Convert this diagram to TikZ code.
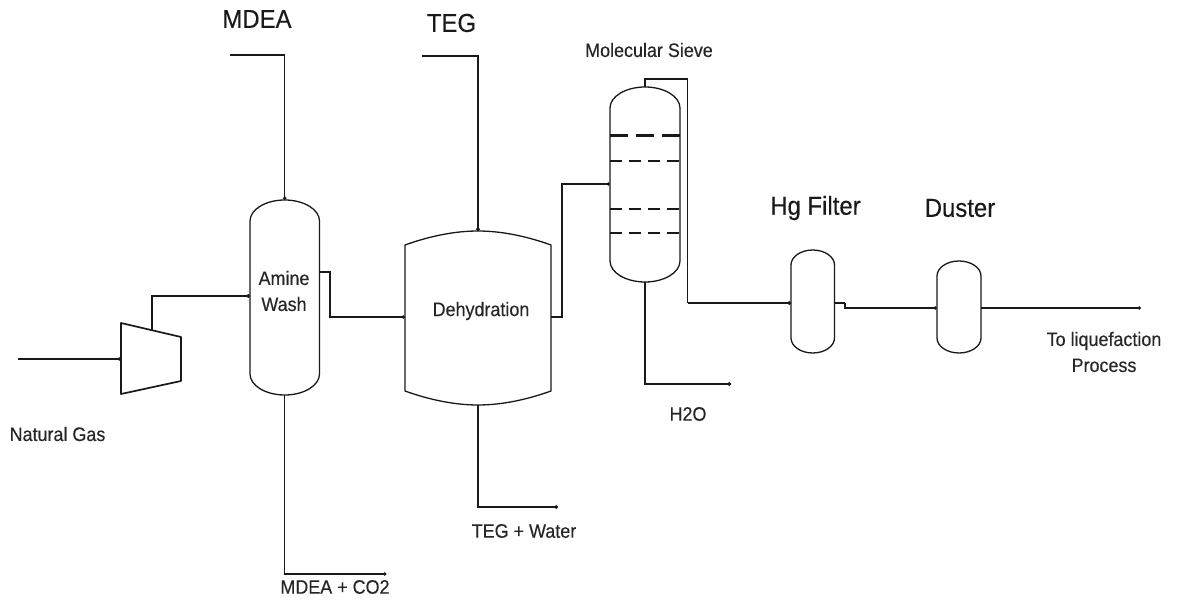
\documentclass[tikz,border=0pt]{standalone}
\usepackage{fontspec}
\setmainfont[FakeStretch=0.92,FakeBold=0.25]{Liberation Sans}
\usetikzlibrary{arrows.meta}
\tikzset{
  frame/.style={inner sep=0pt,outer sep=0pt,draw=none,rectangle},
  outline/.style={draw=black!90,line width=1.3pt,line join=round},
  pipe/.style={draw=black!90,line width=1.1pt,line join=miter},
  heavypipe/.style={draw=black!90,line width=2.5pt,line join=miter},
  flow/.style={-{Circle[length=3.5pt,width=3.5pt]}},
  small/.style={font=\fontsize{19.5}{26}\selectfont,text=black!85,inner sep=0pt,align=center},
  large/.style={font=\fontsize{26}{28}\selectfont,text=black!90,inner sep=0pt,align=center},
  sievefine/.style={draw=black!90,line width=1.2pt,dash pattern=on 12pt off 7pt},
  sievethick/.style={draw=black!90,line width=2.4pt,dash pattern=on 12pt off 7pt},
}
% #1 name, #2 left, #3 right, #4 top, #5 bottom, #6 cap height
\newcommand{\capvessel}[6]{%
  \pgfmathsetmacro{\vc}{(#2+#3)/2}%
  \pgfmathsetmacro{\vm}{(#4+#5)/2}%
  \pgfmathsetmacro{\vw}{#3-#2}%
  \pgfmathsetmacro{\vh}{#5-#4}%
  \pgfmathsetmacro{\vk}{0.275*\vw}%
  \pgfmathsetmacro{\vq}{0.55*#6}%
  \node[frame,minimum width=\vw pt,minimum height=\vh pt] (#1) at (\vc,\vm) {};
  \draw[outline] (#2,#4+#6)
    .. controls (#2,#4+#6-\vq) and (\vc-\vk,#4) .. (\vc,#4)
    .. controls (\vc+\vk,#4) and (#3,#4+#6-\vq) .. (#3,#4+#6)
    -- (#3,#5-#6)
    .. controls (#3,#5-#6+\vq) and (\vc+\vk,#5) .. (\vc,#5)
    .. controls (\vc-\vk,#5) and (#2,#5-#6+\vq) .. (#2,#5-#6)
    -- cycle;
}
\begin{document}
\begin{tikzpicture}[x=1pt,y=-1pt]
\useasboundingbox (0,0) rectangle (1178,601);
\fill[white] (0,0) rectangle (1178,601);

% equipment
\capvessel{amine}{250}{319.5}{200}{395}{21}
\capvessel{sieve}{610}{680}{87}{282}{21}
\capvessel{hg}{791}{834.5}{250}{353}{15}
\capvessel{duster}{937}{981}{261}{353}{15}
\node[frame,minimum width=146pt,minimum height=174pt] (dehy) at (478,318) {};
\draw[outline] (405,245) .. controls (430,236) and (455,231) .. (478,231)
  .. controls (501,231) and (526,236) .. (551,245) -- (551,391)
  .. controls (526,400) and (501,405) .. (478,405)
  .. controls (455,405) and (430,400) .. (405,391) -- cycle;
\node[frame,minimum width=60pt,minimum height=71pt] (comp) at (151,358.5) {};
\draw[outline,line width=1.7pt] (121,323) -- (181,337) -- (181,381) -- (121,394) -- cycle;

% sieve beds
\draw[sievethick,dash pattern=on 18pt off 8pt,line width=3pt] (sieve.west |- 0,136) -- (sieve.east |- 0,136);
\draw[sievefine]  (sieve.west |- 0,161) -- (sieve.east |- 0,161);
\draw[sievefine]  (sieve.west |- 0,209) -- (sieve.east |- 0,209);
\draw[sievethick] (sieve.west |- 0,233) -- (sieve.east |- 0,233);

% free ends
\coordinate (feed) at (18,359);
\coordinate (compout) at (152,330);
\coordinate (mdeain) at (230,55);
\coordinate (tegin) at (422,56);
\coordinate (mdeaout) at (386.5,574);
\coordinate (tegout) at (558,507);
\coordinate (waterout) at (731,384);
\coordinate (product) at (1141,308);

% connectors
\draw[pipe,flow] (feed) -- (comp.west |- feed);
\draw[heavypipe,flow] (compout) -- (152,296) -- (amine.west |- 0,296);
\draw[pipe,flow] (mdeain) -| (amine.north);
\draw[pipe,flow] (amine.south) |- (mdeaout);
\draw[pipe,flow] (amine.east |- 0,272) -- (330,272) -- (330,317) -- (dehy.west |- 0,317);
\draw[heavypipe,flow] (tegin) -| (dehy.north);
\draw[heavypipe,flow] (dehy.south) |- (tegout);
\draw[pipe,flow] (dehy.east |- 0,317) -- (562,317) -- (562,184) -- (sieve.west |- 0,184);
\draw[heavypipe,flow] (sieve.south) |- (waterout);
\draw[pipe] (sieve.north) -- (645,79) -- (687.5,79) -- (687.5,303);
\draw[heavypipe,flow] (687.5,303) -- (hg.west |- 0,303);
\draw[heavypipe] (hg.east |- 0,303) -- (845,303);
\draw[pipe,flow] (845,303) -- (845,308) -- (duster.west |- 0,308);
\draw[pipe,flow] (duster.east |- 0,308) -- (product);

% labels
\node[large] (lmdea) at (257,19) {MDEA};
\node[large] (lteg) at (451.5,23) {TEG};
\node[small] (lsieve) at (649,50) {Molecular Sieve};
\node[large] (lhg) at (815.5,208) {Hg Filter};
\node[large] (lduster) at (960,208) {Duster};
\node[small] (lamine) at (284,291) {Amine\\Wash};
\node[small] (ldehy) at (481,311) {Dehydration};
\node[small] (lgas) at (57.5,434) {Natural Gas};
\node[small] (lmc) at (335,587) {MDEA + CO2};
\node[small] (ltw) at (524,531) {TEG + Water};
\node[small] (lw) at (688,414) {H2O};
\node[small] (lliq) at (1104,352) {To liquefaction\\Process};
\end{tikzpicture}
\end{document}
